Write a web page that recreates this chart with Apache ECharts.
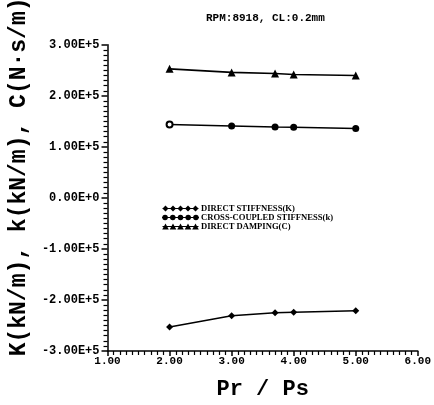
<!DOCTYPE html>
<html>
<head>
<meta charset="utf-8">
<script src="https://cdn.jsdelivr.net/npm/echarts@6/dist/echarts.min.js"></script>
<style>html,body{margin:0;padding:0;background:#fff;}#c{width:434px;height:405px;}</style>
</head>
<body>
<div id="c"></div>
<script>
const titleText = 'RPM:8918, CL:0.2mm';
const xName = 'Pr / Ps';
const yName = 'K(kN/m), k(kN/m), C(N\u00b7s/m)';
const seriesNames = ['DIRECT STIFFNESS(K)', 'CROSS-COUPLED STIFFNESS(k)', 'DIRECT DAMPING(C)'];
const xVals = [2.0, 3.0, 3.7, 4.0, 5.0];
const directStiffness = [-2.53e5, -2.31e5, -2.25e5, -2.24e5, -2.21e5];
const crossStiffness = [1.44e5, 1.41e5, 1.39e5, 1.385e5, 1.36e5];
const directDamping = [2.53e5, 2.46e5, 2.44e5, 2.42e5, 2.40e5];

const mono = '"Liberation Mono", "DejaVu Sans Mono", monospace';
const serif = '"Liberation Serif", "DejaVu Serif", serif';

function pairs(ys){ return xVals.map((x,i)=>[x, ys[i]]); }

// legend icon paths: line + 5 markers in a 60x10 box
function iconPath(kind){
  let p = 'path://M0,4L60,4L60,6L0,6Z';
  [5,17.5,30,42.5,55].forEach(x=>{
    if(kind==='diamond') p += `M${x},0L${x+5},5L${x},10L${x-5},5Z`;
    else if(kind==='circle') p += `M${x-4.5},5A4.5,4.5 0 1 1 ${x+4.5},5A4.5,4.5 0 1 1 ${x-4.5},5Z`;
    else p += `M${x},0L${x+5.5},10L${x-5.5},10Z`;
  });
  return p;
}

const chart = echarts.init(document.getElementById('c'));
chart.setOption({
  backgroundColor: '#fff',
  animation: false,
  title: {
    text: titleText, left: 201, top: 8,
    textStyle: {fontFamily: mono, fontWeight: 'bold', fontSize: 11, color: '#000'}
  },
  grid: {left: 101, right: 16, top: 42, bottom: 43},
  legend: {
    orient: 'vertical', left: 157, top: 199,
    itemWidth: 37, itemHeight: 6, itemGap: 0,
    itemStyle: {color: '#000', borderWidth: 0},
    textStyle: {fontFamily: serif, fontWeight: 'bold', fontSize: 8.6, color: '#000', lineHeight: 6.5, padding: [0,0,0,-3]},
    data: [
      {name: seriesNames[0], icon: iconPath('diamond')},
      {name: seriesNames[1], icon: iconPath('circle')},
      {name: seriesNames[2], icon: iconPath('triangle')}
    ]
  },
  xAxis: {
    type: 'value', min: 1, max: 6, interval: 1,
    name: xName, nameLocation: 'middle', nameGap: 27,
    nameTextStyle: {fontFamily: mono, fontWeight: 'bold', fontSize: 22, color: '#000'},
    axisLine: {onZero: false, lineStyle: {color: '#000', width: 1.5}},
    axisTick: {show: true, length: 5, lineStyle: {color: '#000', width: 1.5}},
    minorTick: {show: true, splitNumber: 10, length: 4, lineStyle: {color: '#000', width: 1.2}},
    splitLine: {show: false},
    axisLabel: {margin: 5, color: '#000', fontFamily: mono, fontWeight: 'bold', fontSize: 11,
      formatter: v => v.toFixed(2)}
  },
  yAxis: {
    type: 'value', min: -3e5, max: 3e5, interval: 1e5,
    name: yName, nameLocation: 'middle', nameGap: 68, nameRotate: 90,
    nameTextStyle: {fontFamily: mono, fontWeight: 'bold', fontSize: 23, color: '#000', padding: [0,0,0,42]},
    axisLine: {show: true, onZero: false, lineStyle: {color: '#000', width: 1.5}},
    axisTick: {show: true, length: 6, lineStyle: {color: '#000', width: 1.5}},
    minorTick: {show: true, splitNumber: 10, length: 4, lineStyle: {color: '#000', width: 1.2}},
    splitLine: {show: false},
    axisLabel: {margin: 8, color: '#000', fontFamily: mono, fontWeight: 'bold', fontSize: 12,
      formatter: v => v.toExponential(2).toUpperCase()}
  },
  series: [
    {name: seriesNames[0], type: 'line', data: pairs(directStiffness),
      symbol: 'diamond', symbolSize: 7, color: '#000',
      lineStyle: {color: '#000', width: 1.6}, itemStyle: {color: '#000'}},
    {name: seriesNames[1], type: 'line',
      data: pairs(crossStiffness).map((d,i)=> i===0 ? {value: d, symbol: 'emptyCircle', symbolSize: 6, itemStyle: {color: '#000', borderWidth: 2}} : d),
      symbol: 'circle', symbolSize: 7, color: '#000',
      lineStyle: {color: '#000', width: 1.6}, itemStyle: {color: '#000'}},
    {name: seriesNames[2], type: 'line', data: pairs(directDamping),
      symbol: 'triangle', symbolSize: 8, color: '#000',
      lineStyle: {color: '#000', width: 1.6}, itemStyle: {color: '#000'}}
  ]
});
</script>
</body>
</html>
